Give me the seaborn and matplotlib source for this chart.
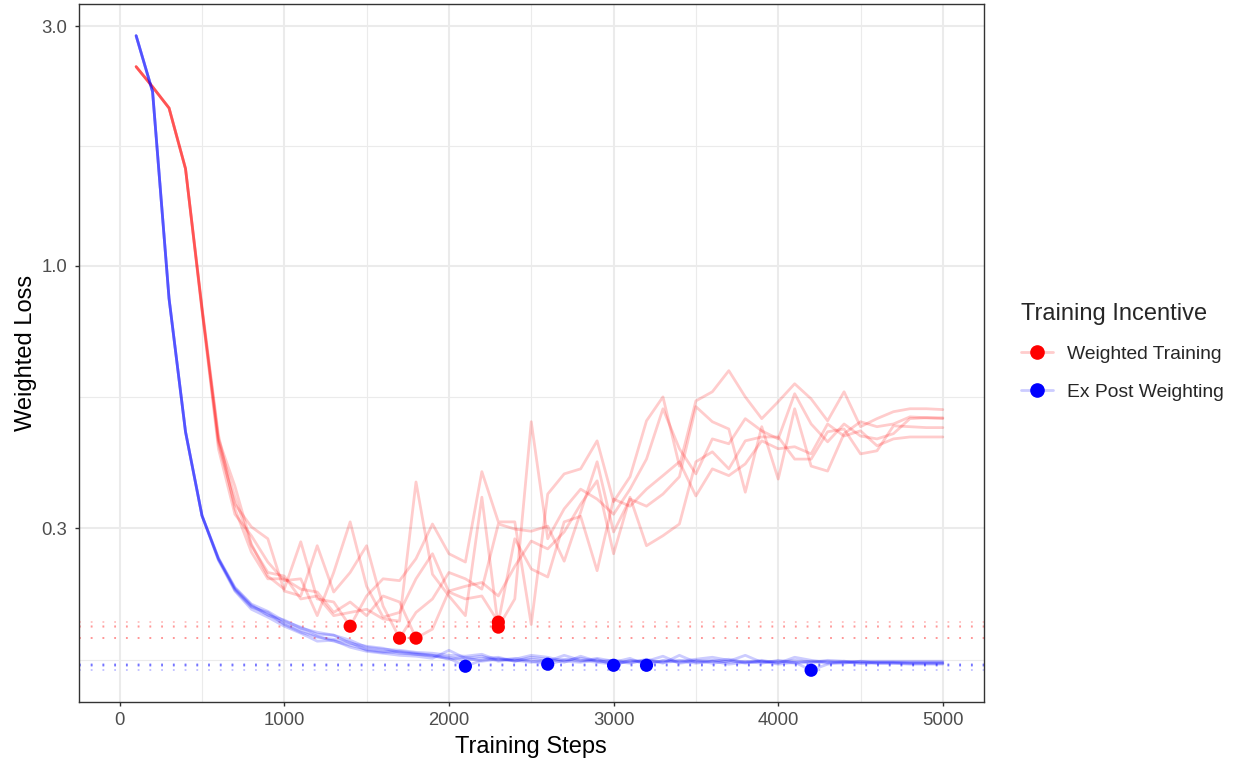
import numpy as np
import pandas as pd
import matplotlib
matplotlib.use('Agg')
import matplotlib.pyplot as plt
from matplotlib.lines import Line2D
import seaborn as sns

# training steps, logged every 100
steps = list(range(100, 5001, 100))

# weighted loss per run (log scale)
weighted_runs = {
    'W1': [2.49, 2.27, 2.06, 1.56, 0.821, 0.452, 0.364, 0.279, 0.241, 0.227,
           0.282, 0.217, 0.214, 0.1915, 0.220, 0.238, 0.236, 0.261, 0.306, 0.267,
           0.257, 0.389, 0.309, 0.309, 0.193, 0.351, 0.385, 0.394, 0.448, 0.339,
           0.380, 0.491, 0.548, 0.399, 0.538, 0.561, 0.618, 0.548, 0.496, 0.536,
           0.582, 0.543, 0.491, 0.561, 0.478, 0.496, 0.512, 0.519, 0.519, 0.517],
    'W2': [2.49, 2.27, 2.06, 1.56, 0.814, 0.442, 0.335, 0.302, 0.286, 0.225,
           0.220, 0.277, 0.224, 0.245, 0.277, 0.210, 0.1813, 0.204, 0.217, 0.245,
           0.238, 0.227, 0.306, 0.299, 0.296, 0.303, 0.258, 0.323, 0.407, 0.295,
           0.343, 0.332, 0.351, 0.380, 0.524, 0.489, 0.473, 0.354, 0.478, 0.376,
           0.519, 0.399, 0.390, 0.463, 0.489, 0.478, 0.484, 0.500, 0.498, 0.498],
    'W3': [2.49, 2.27, 2.06, 1.56, 0.829, 0.460, 0.328, 0.269, 0.238, 0.238,
           0.227, 0.224, 0.204, 0.214, 0.201, 0.220, 0.214, 0.1813, 0.189, 0.225,
           0.230, 0.234, 0.220, 0.252, 0.283, 0.273, 0.295, 0.335, 0.373, 0.267,
           0.346, 0.277, 0.290, 0.306, 0.407, 0.426, 0.394, 0.448, 0.456, 0.456,
           0.412, 0.412, 0.467, 0.473, 0.422, 0.428, 0.480, 0.478, 0.476, 0.476],
    'W4': [2.49, 2.27, 2.06, 1.56, 0.817, 0.432, 0.320, 0.290, 0.257, 0.236,
           0.238, 0.201, 0.245, 0.309, 0.230, 0.1996, 0.204, 0.238, 0.267, 0.224,
           0.217, 0.220, 0.1951, 0.286, 0.249, 0.240, 0.309, 0.317, 0.247, 0.343,
           0.332, 0.359, 0.382, 0.407, 0.348, 0.394, 0.382, 0.403, 0.448, 0.432,
           0.436, 0.422, 0.484, 0.458, 0.469, 0.438, 0.452, 0.456, 0.456, 0.456],
    'W5': [2.49, 2.27, 2.06, 1.56, 0.825, 0.448, 0.346, 0.277, 0.245, 0.241,
           0.217, 0.220, 0.201, 0.204, 0.207, 0.198, 0.196, 0.371, 0.243, 0.220,
           0.201, 0.346, 0.1907, 0.217, 0.489, 0.286, 0.328, 0.359, 0.343, 0.320,
           0.359, 0.412, 0.519, 0.432, 0.385, 0.452, 0.442, 0.496, 0.469, 0.452,
           0.556, 0.484, 0.446, 0.484, 0.458, 0.452, 0.463, 0.496, 0.498, 0.496],
}

expost_runs = {
    'E1': [2.87, 2.22, 0.86, 0.467, 0.318, 0.261, 0.227, 0.210, 0.202, 0.194,
           0.188, 0.1829, 0.1788, 0.1755, 0.1723, 0.1707, 0.1692, 0.1684, 0.1669, 0.1653,
           0.1594, 0.1638, 0.1653, 0.1631, 0.1646, 0.1631, 0.1676, 0.1638, 0.1623, 0.1609,
           0.1631, 0.1638, 0.1623, 0.1631, 0.1646, 0.1661, 0.1638, 0.1616, 0.1631, 0.1623,
           0.1638, 0.1623, 0.1631, 0.1623, 0.1631, 0.1631, 0.1631, 0.1631, 0.1631, 0.1631],
    'E2': [2.87, 2.22, 0.86, 0.467, 0.318, 0.262, 0.229, 0.212, 0.205, 0.196,
           0.1907, 0.1846, 0.1838, 0.1796, 0.1739, 0.1723, 0.1715, 0.1699, 0.1692, 0.1676,
           0.1669, 0.1684, 0.1638, 0.1653, 0.1631, 0.1609, 0.1638, 0.1653, 0.1631, 0.1638,
           0.1623, 0.1631, 0.1669, 0.1616, 0.1631, 0.1638, 0.1623, 0.1631, 0.1616, 0.1638,
           0.1623, 0.1631, 0.1616, 0.1631, 0.1623, 0.1623, 0.1623, 0.1623, 0.1623, 0.1623],
    'E3': [2.87, 2.22, 0.86, 0.467, 0.318, 0.259, 0.225, 0.207, 0.1996, 0.1915,
           0.1855, 0.1788, 0.1796, 0.1739, 0.1707, 0.1692, 0.1676, 0.1669, 0.1653, 0.1715,
           0.1653, 0.1669, 0.1631, 0.1646, 0.1676, 0.1661, 0.1631, 0.1623, 0.1646, 0.1601,
           0.1638, 0.1623, 0.1631, 0.1638, 0.1616, 0.1631, 0.1646, 0.1623, 0.1638, 0.1616,
           0.1661, 0.1638, 0.1623, 0.1616, 0.1631, 0.1616, 0.1616, 0.1616, 0.1616, 0.1616],
    'E4': [2.87, 2.22, 0.86, 0.467, 0.318, 0.260, 0.228, 0.211, 0.2015, 0.197,
           0.1898, 0.1863, 0.1838, 0.1771, 0.1747, 0.1731, 0.1699, 0.1684, 0.1676, 0.1661,
           0.1638, 0.1653, 0.1661, 0.1631, 0.1661, 0.1646, 0.1623, 0.1669, 0.1631, 0.1623,
           0.1653, 0.1601, 0.1638, 0.1623, 0.1638, 0.1616, 0.1631, 0.1676, 0.1623, 0.1631,
           0.1616, 0.1623, 0.1638, 0.1631, 0.1616, 0.1623, 0.1623, 0.1616, 0.1616, 0.1616],
    'E5': [2.87, 2.22, 0.86, 0.467, 0.318, 0.261, 0.226, 0.209, 0.204, 0.193,
           0.1863, 0.1821, 0.1804, 0.1779, 0.1715, 0.1699, 0.1707, 0.1692, 0.1676, 0.1646,
           0.1661, 0.1631, 0.1646, 0.1638, 0.1623, 0.1638, 0.1646, 0.1631, 0.1653, 0.1631,
           0.1616, 0.1646, 0.1616, 0.1676, 0.1623, 0.1631, 0.1609, 0.1623, 0.1631, 0.1609,
           0.1623, 0.1565, 0.1609, 0.1623, 0.1616, 0.1616, 0.1616, 0.1609, 0.1609, 0.1609],
}

groups = ['Weighted Training', 'Ex Post Weighting']
colors = {'Weighted Training': '#FF0000', 'Ex Post Weighting': '#0000FF'}
faded = {'Weighted Training': (1, 0, 0, 0.2), 'Ex Post Weighting': (0, 0, 1, 0.2)}

rows = []
for grp, runs in zip(groups, [weighted_runs, expost_runs]):
    for run, vals in runs.items():
        for s, v in zip(steps, vals):
            rows.append((grp, run, s, v))
df = pd.DataFrame(rows, columns=['incentive', 'run', 'step', 'loss'])

# best checkpoint of each run
mins = df.loc[df.groupby('run')['loss'].idxmin()]

sns.set_theme(style='whitegrid')
plt.rcParams['font.family'] = ['Liberation Sans', 'DejaVu Sans']

fig, ax = plt.subplots(figsize=(12.33, 7.61), dpi=100)
fig.subplots_adjust(left=78.5/1233, right=984/1233, bottom=1-702/761, top=1-4/761)

sns.lineplot(data=df, x='step', y='loss', hue='incentive', units='run',
             estimator=None, palette=colors, alpha=0.2, linewidth=2.0,
             legend=False, ax=ax, zorder=3)

for _, r in mins.iterrows():
    ax.axhline(r['loss'], color=colors[r['incentive']], alpha=0.25,
               linewidth=1.3, linestyle=(0, (1.0, 5.5)), zorder=2)

sns.scatterplot(data=mins, x='step', y='loss', hue='incentive', palette=colors,
                s=90, edgecolor='none', legend=False, ax=ax, zorder=4)

ax.set_yscale('log')
ax.set_ylim(0.1353, 3.319)
ax.set_xlim(-250, 5250)
ax.set_yticks([0.3, 1.0, 3.0])
ax.set_yticklabels(['0.3', '1.0', '3.0'])
ax.set_yticks([0.1643, 0.5477, 1.732], minor=True)
ax.set_yticklabels([], minor=True)
ax.set_xticks([0, 1000, 2000, 3000, 4000, 5000])
ax.set_xticks([500, 1500, 2500, 3500, 4500], minor=True)

ax.grid(which='major', color='#EBEBEB', linewidth=1.5)
ax.grid(which='minor', color='#EBEBEB', linewidth=0.8)
ax.set_axisbelow(True)
for sp in ax.spines.values():
    sp.set_color('#333333')
    sp.set_linewidth(1.0)

ax.tick_params(which='major', axis='both', length=3, width=1.0, color='#333333',
               labelcolor='#4D4D4D', labelsize=13.3, left=True, bottom=True)
ax.tick_params(axis='x', pad=4)
ax.tick_params(axis='y', pad=5)
ax.tick_params(which='minor', length=0)

ax.set_xlabel('Training Steps', fontsize=17, color='black', labelpad=5.5)
ax.set_ylabel('Weighted Loss', fontsize=17, color='black', labelpad=3)

handles = [Line2D([0], [0], color=faded[g], linewidth=2.0, marker='o',
                  markersize=9.5, markerfacecolor=colors[g],
                  markeredgecolor=colors[g]) for g in groups]

leg = fig.legend(handles, groups, title='Training Incentive', loc='upper left',
                 bbox_to_anchor=(1017/1233, 1-299/761), frameon=False,
                 fontsize=13.9, title_fontsize=17, handlelength=1.65,
                 handletextpad=0.75, labelspacing=1.06, borderpad=0.2,
                 borderaxespad=0)
leg._legend_box.align = 'left'

fig.savefig('out.png', dpi=100)
